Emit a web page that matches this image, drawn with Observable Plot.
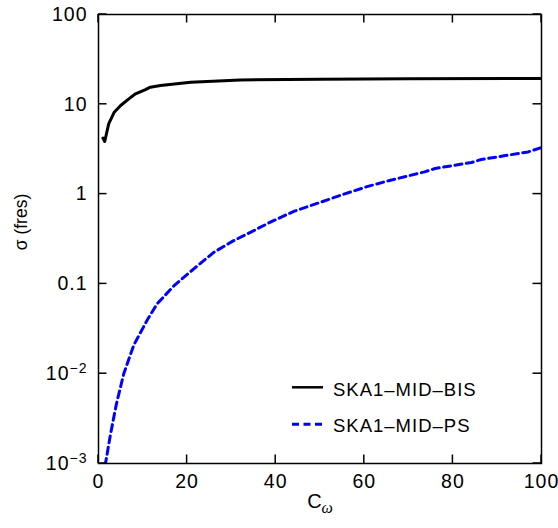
<!DOCTYPE html>
<html><head><meta charset="utf-8">
<script src="https://cdn.jsdelivr.net/npm/d3@7"></script>
<script src="https://cdn.jsdelivr.net/npm/@observablehq/plot@0.6"></script>
<style>body{margin:0;background:#fff}</style>
</head><body><div id="chart"></div>
<script>
// Data
const xTicks = [0, 20, 40, 60, 80, 100];
const yTicks = [100, 10, 1, 0.1, 0.01, 0.001];
const yTickLabels = ["100", "10", "1", "0.1", "10−2", "10−3"];
const seriesNames = ["SKA1–MID–BIS", "SKA1–MID–PS"];

const bisX = [1.0, 1.4, 2.3, 3.5, 5, 6.85, 8.35, 10.6, 11.7, 14, 20.8, 32, 50, 70, 100];
const bisY = [4.2, 3.85, 6.05, 8.1, 9.7, 11.5, 13.1, 14.6, 15.5, 16.2, 17.6, 18.7, 19.0, 19.2, 19.4];

const psX = [1.5, 2.7, 4, 5.7, 8, 11, 13.2, 17, 21.5, 26, 30.5, 34.3, 38.4, 44.1, 50.1, 55.4, 60.6, 65.5, 73.6, 76, 84.2, 86.4, 97, 100];
const psY = [0.00095, 0.0021, 0.0045, 0.01, 0.021, 0.0396, 0.0597, 0.095, 0.147, 0.224, 0.303, 0.375, 0.477, 0.643, 0.81, 1.0, 1.21, 1.41, 1.77, 1.93, 2.25, 2.43, 2.95, 3.3];

(function () {
const bis = bisX.map((x, i) => ({x, y: bisY[i]}));
const ps = psX.map((x, i) => ({x, y: psY[i]}));

const FONT = "'Liberation Sans', Arial, sans-serif";
const W = 558, H = 528, ML = 98, MR = 17, MT = 14, MB = 65;
const TICK = 8.5;

const plot = Plot.plot({
  width: W, height: H,
  marginLeft: ML, marginRight: MR, marginTop: MT, marginBottom: MB,
  style: {fontFamily: FONT, fontSize: "19.5px", background: "white", color: "black", letterSpacing: "1px"},
  x: {domain: [0, 100]},
  y: {type: "log", domain: [1e-3, 100]},
  marks: [
    Plot.line(bis, {x: "x", y: "y", stroke: "black", strokeWidth: 3, clip: true}),
    Plot.line(ps, {x: "x", y: "y", stroke: "#0000ff", strokeWidth: 3, strokeDasharray: "7,4.5", clip: true}),
    Plot.frame({stroke: "black", strokeWidth: 1.5}),
    // tick labels
    Plot.axisX({ticks: xTicks, tickSize: 0, tickPadding: 11, tickFormat: d => String(d), label: null}),
    Plot.axisY({ticks: yTicks, tickSize: 0, tickPadding: 11, tickFormat: d => yTickLabels[yTicks.indexOf(d)], label: null})
  ]
});

// superscripts on y tick labels
plot.querySelectorAll("text").forEach(t => {
  const s = t.textContent;
  if (/^10−\d$/.test(s)) {
    t.textContent = "10";
    const sp = document.createElementNS("http://www.w3.org/2000/svg", "tspan");
    sp.setAttribute("dy", "-0.5em");
    sp.setAttribute("font-size", "0.72em");
    sp.textContent = s.slice(2);
    t.appendChild(sp);
  }
});

const svg = d3.select(plot);
const xs = plot.scale("x"), ys = plot.scale("y");
const fLeft = ML, fRight = W - MR, fTop = MT, fBottom = H - MB;

// inward ticks on all four sides, placed with Plot's own scales
const ticks = svg.append("g").attr("stroke", "black").attr("stroke-width", 1.5).attr("fill", "none");
xTicks.forEach(v => {
  const px = xs.apply(v);
  ticks.append("line").attr("x1", px).attr("x2", px).attr("y1", fBottom).attr("y2", fBottom - TICK);
  ticks.append("line").attr("x1", px).attr("x2", px).attr("y1", fTop).attr("y2", fTop + TICK);
});
yTicks.forEach(v => {
  const py = ys.apply(v);
  ticks.append("line").attr("x1", fLeft).attr("x2", fLeft + TICK).attr("y1", py).attr("y2", py);
  ticks.append("line").attr("x1", fRight).attr("x2", fRight - TICK).attr("y1", py).attr("y2", py);
});

// x label
const xl = svg.append("text")
  .attr("x", 320).attr("y", 508)
  .attr("text-anchor", "middle")
  .attr("font-family", FONT).attr("font-size", 20).attr("fill", "black").attr("letter-spacing", "0px");
xl.append("tspan").text("C");
xl.append("tspan").attr("dy", 5).attr("font-family", "'Liberation Serif', 'DejaVu Serif', serif")
  .attr("font-style", "italic").attr("font-size", 16).text("ω");

// y label
svg.append("text")
  .attr("transform", "translate(21,222) rotate(-90)")
  .attr("text-anchor", "middle").attr("dy", "0.35em")
  .attr("font-family", FONT).attr("font-size", 17.5).attr("fill", "black").attr("letter-spacing", "0px")
  .text("σ (fres)");

// legend
const legend = svg.append("g");
const rows = [
  {name: seriesNames[0], stroke: "black", dash: null, yl: 387.3, yt: 396},
  {name: seriesNames[1], stroke: "#0000ff", dash: "7,4.5", yl: 424.3, yt: 432}
];
rows.forEach(r => {
  legend.append("line").attr("x1", 292).attr("x2", 323).attr("y1", r.yl).attr("y2", r.yl)
    .attr("stroke", r.stroke).attr("stroke-width", r.dash ? 3 : 2.5)
    .attr("stroke-dasharray", r.dash);
  legend.append("text").attr("x", 333).attr("y", r.yt)
    .attr("text-anchor", "start")
    .attr("font-family", FONT).attr("font-size", 18.5).attr("letter-spacing", "1px").attr("fill", "black")
    .text(r.name);
});

document.getElementById("chart").appendChild(plot);
})();
</script>
</body></html>
